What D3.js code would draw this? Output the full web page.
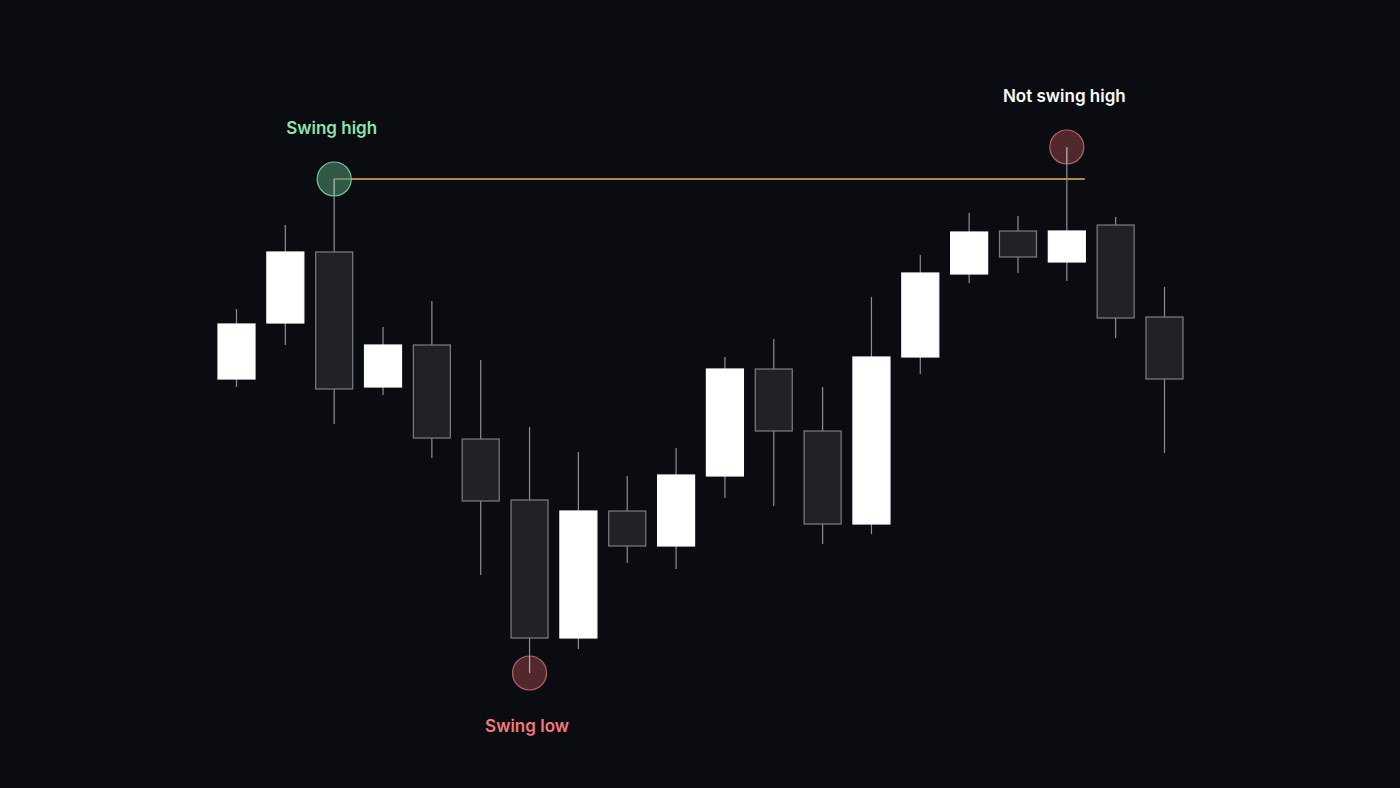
<!DOCTYPE html>
<html><head><meta charset="utf-8">
<script src="https://cdn.jsdelivr.net/npm/d3@7"></script>
<style>html,body{margin:0;padding:0;background:#0b0c12;}svg{display:block;}</style>
</head><body>
<svg id="chart" width="1400" height="788"></svg>
<script>
const categories = d3.range(1, 21).map(i => "C" + i);
const openVals  = [72.2, 83.4, 97.6, 70.6, 79.0, 60.2, 48.0, 20.4, 45.8, 38.8, 52.8, 74.2, 61.8, 43.2, 76.6, 93.2, 101.8, 95.6, 103.0, 84.6];
const closeVals = [83.2, 97.6, 70.2, 79.0, 60.4, 47.8, 20.4, 45.8, 38.8, 53.0, 74.2, 61.8, 43.2, 76.6, 93.4, 101.6, 96.6, 101.8, 84.4, 72.2];
const highVals  = [86.2, 103.0, 112.2, 82.6, 87.8, 76.0, 62.6, 57.6, 52.8, 58.4, 76.6, 80.2, 70.6, 88.6, 97.0, 105.4, 104.8, 118.6, 104.6, 90.6];
const lowVals   = [70.6, 79.0, 63.2, 69.0, 56.4, 33.0, 13.4, 18.2, 35.4, 34.2, 48.4, 46.8, 39.2, 41.2, 73.2, 91.4, 93.4, 91.8, 80.4, 57.4];
const markers = [
  {idx: 2, at: "high", label: "Swing high", kind: "good"},
  {idx: 6, at: "low", label: "Swing low", kind: "bad"},
  {idx: 17, at: "high", label: "Not swing high", kind: "neutral"}
];

const svg = d3.select("#chart");
const x = d3.scalePoint().domain(categories).range([236, 1164]);
const y = d3.scaleLinear().domain([0, 120]).range([740, 140]);
const bodyW = 37;

const data = categories.map((c, i) => ({c, o: openVals[i], cl: closeVals[i], h: highVals[i], l: lowVals[i]}));

// swing-high level line
const sh = data[markers[0].idx];
svg.append("line")
  .attr("x1", x(sh.c)).attr("x2", x(data[17].c) + bodyW / 2)
  .attr("y1", y(sh.h)).attr("y2", y(sh.h))
  .attr("stroke", "#e9b949").attr("stroke-width", 1.3);

const g = svg.append("g");
const cand = g.selectAll("g.c").data(data).join("g").attr("class", "c");
cand.append("line")
  .attr("x1", d => x(d.c) + 0.5).attr("x2", d => x(d.c) + 0.5)
  .attr("y1", d => y(d.h)).attr("y2", d => y(d.l))
  .attr("stroke", "#8d8e93").attr("stroke-width", 1.2);
cand.append("rect")
  .attr("x", d => x(d.c) - bodyW / 2 + 0.5)
  .attr("width", bodyW)
  .attr("y", d => y(Math.max(d.o, d.cl)))
  .attr("height", d => Math.abs(y(d.o) - y(d.cl)))
  .attr("fill", d => d.cl >= d.o ? "#ffffff" : "#212226")
  .attr("stroke", d => d.cl >= d.o ? "#ffffff" : "#7d7e83")
  .attr("stroke-width", 1.2);

// markers
const styles = {
  good: {fill: "rgba(72,140,105,0.6)", stroke: "#79c39a", text: "#8fe3a6"},
  bad: {fill: "rgba(130,60,64,0.6)", stroke: "#b0646a", text: "#f07b78"},
  neutral: {fill: "rgba(130,60,64,0.6)", stroke: "#b0646a", text: "#ffffff"}
};
markers.forEach(m => {
  const d = data[m.idx];
  const cy = y(m.at === "high" ? d.h : d.l);
  const st = styles[m.kind];
  svg.append("circle").attr("cx", x(d.c) + 0.5).attr("cy", cy).attr("r", 17)
    .attr("fill", st.fill).attr("stroke", st.stroke).attr("stroke-width", 1.2);
  // redraw wick segment over circle
  svg.append("line").attr("x1", x(d.c) + 0.5).attr("x2", x(d.c) + 0.5)
    .attr("y1", cy).attr("y2", m.at === "high" ? cy + 17 : cy - 17)
    .attr("stroke", "#a9aaaf").attr("stroke-width", 1.2);
  svg.append("text")
    .attr("x", x(d.c) - 2)
    .attr("y", m.at === "high" ? cy - 45 : cy + 59)
    .attr("text-anchor", "middle")
    .attr("font-family", "Inter, 'Noto Sans', sans-serif")
    .attr("font-weight", 600)
    .attr("font-size", 17)
    .attr("fill", st.text)
    .text(m.label);
});
</script>
</body></html>
